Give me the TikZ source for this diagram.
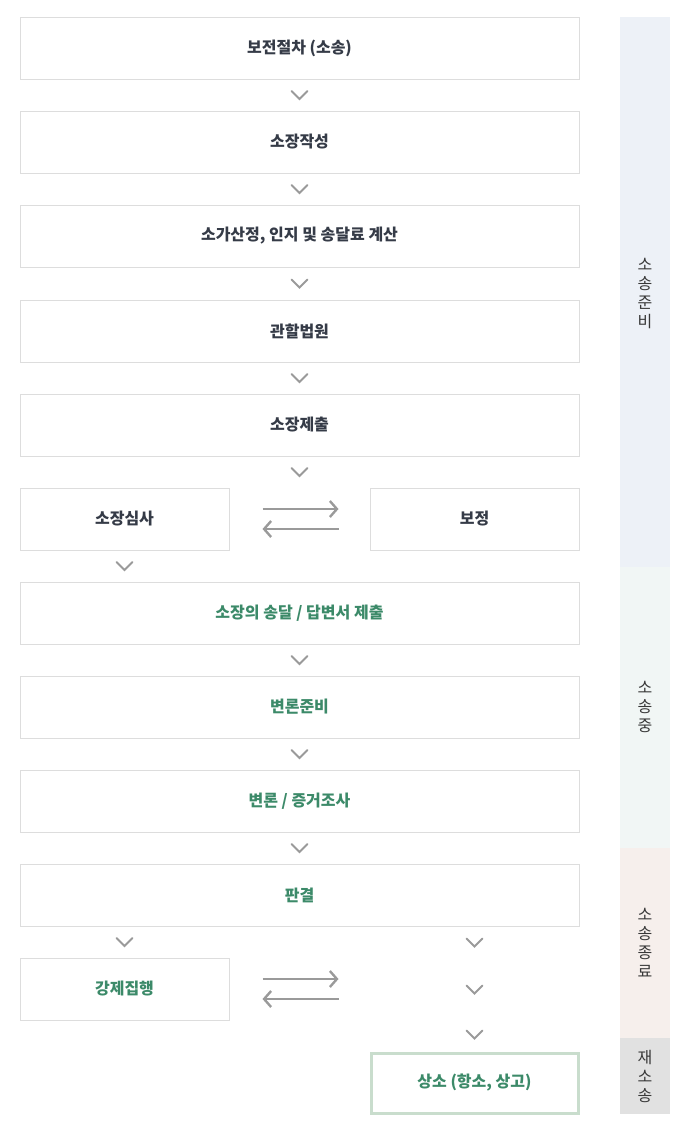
\documentclass[tikz,border=0pt]{standalone}
\usepackage{fontspec}
\setmainfont{Noto Sans CJK KR}
\usetikzlibrary{arrows.meta,calc}
\definecolor{boxline}{HTML}{DDDDDD}
\definecolor{darktxt}{HTML}{353B47}
\definecolor{greentxt}{HTML}{3C8A69}
\definecolor{chev}{HTML}{9A9A9A}
\definecolor{barA}{HTML}{EDF1F7}
\definecolor{barB}{HTML}{F1F6F5}
\definecolor{barC}{HTML}{F6EFEC}
\definecolor{barD}{HTML}{E1E1E1}
\definecolor{sideTxt}{HTML}{383838}
\definecolor{appealline}{HTML}{C9DDCD}
\tikzset{
  x=1pt,y=-1pt,
  wide/.style={draw=boxline,line width=1pt,fill=white,minimum width=559pt,minimum height=62pt,inner sep=0pt,font=\fontsize{16}{19}\selectfont\bfseries},
  half/.style={wide,minimum width=209pt},
  dk/.style={text=darktxt},
  gr/.style={text=greentxt},
  chevron/.pic={\draw[chev,line width=2pt,line cap=round,line join=miter] (-8,-4) -- (0,4) -- (8,-4);},
  swap/.style={chev,line width=2.6pt,-{Straight Barb[length=7pt,width=16pt,line width=2.4pt]}},
  sidetxt/.style={text=sideTxt,font=\fontsize{16}{19}\selectfont,align=center,inner sep=0pt}
}
\begin{document}
\begin{tikzpicture}
\useasboundingbox (0,0) rectangle (681,1128);
% side bars
\fill[barA] (620,17) rectangle (670,567);
\fill[barB] (620,567) rectangle (670,848);
\fill[barC] (620,848) rectangle (670,1038);
\fill[barD] (620,1038) rectangle (670,1114);
\node[sidetxt] (s1) at (645,293) {소\\송\\준\\비};
\node[sidetxt] (s2) at (645,707) {소\\송\\중};
\node[sidetxt] (s3) at (645,943) {소\\송\\종\\료};
\node[sidetxt] (s4) at (645,1076) {재\\소\\송};
% main boxes
\node[wide,dk] (b1) at (299.5,48) {보전절차 (소송)};
\node[wide,dk] (b2) at (299.5,142) {소장작성};
\node[wide,dk] (b3) at (299.5,236) {소가산정, 인지 및 송달료 계산};
\node[wide,dk] (b4) at (299.5,331) {관할법원};
\node[wide,dk] (b5) at (299.5,425) {소장제출};
\node[half,dk] (b6) at (124.5,519) {소장심사};
\node[half,dk] (b7) at (474.5,519) {보정};
\node[wide,gr] (b8) at (299.5,613) {소장의 송달 / 답변서 제출};
\node[wide,gr] (b9) at (299.5,707) {변론준비};
\node[wide,gr] (b10) at (299.5,801) {변론 / 증거조사};
\node[wide,gr] (b11) at (299.5,895) {판결};
\node[half,gr] (b12) at (124.5,989) {강제집행};
\node[half,gr,draw=appealline,line width=3pt,minimum width=207pt,minimum height=60pt] (b13) at (474.5,1083) {상소 (항소, 상고)};
% chevrons
\path ($(b1.south)!0.5!(b2.north)$) pic {chevron};
\path ($(b2.south)!0.5!(b3.north)$) pic {chevron};
\path ($(b3.south)!0.5!(b4.north)$) pic {chevron};
\path ($(b4.south)!0.5!(b5.north)$) pic {chevron};
\path ($(b5.south)!0.5!(b5.south|-b6.north)$) pic {chevron};
\path ($(b6.south)!0.5!(b6.south|-b8.north)$) pic {chevron};
\path ($(b8.south)!0.5!(b9.north)$) pic {chevron};
\path ($(b9.south)!0.5!(b10.north)$) pic {chevron};
\path ($(b10.south)!0.5!(b11.north)$) pic {chevron};
\path ($(b11.south-|b12.south)!0.5!(b12.north)$) pic {chevron};
\coordinate (r1) at ($(b11.south-|b13.north)+(0,16)$);
\coordinate (r2) at ($(b11.south-|b13.north)+(0,63)$);
\coordinate (r3) at ($(b13.north)+(0,-17)$);
\path (r1) pic {chevron};
\path (r2) pic {chevron};
\path (r3) pic {chevron};
% swap arrows
\draw[swap] ($(b6.east)+(33,-10)$) -- ($(b7.west)+(-31,-10)$);
\draw[swap] ($(b7.west)+(-31,10)$) -- ($(b6.east)+(33,10)$);
\draw[swap] ($(b12.east)+(33,-10)$) -- ($(b12.east)+(109,-10)$);
\draw[swap] ($(b12.east)+(109,10)$) -- ($(b12.east)+(33,10)$);
\end{tikzpicture}
\end{document}
